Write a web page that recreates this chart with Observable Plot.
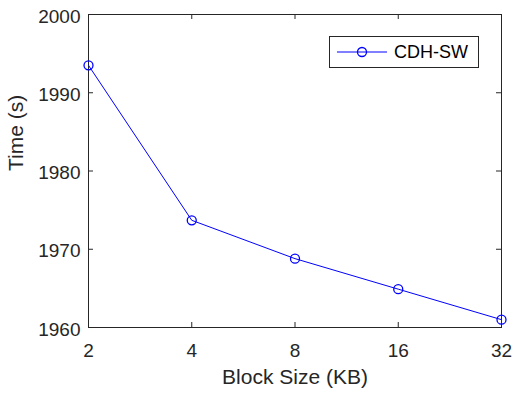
<!DOCTYPE html>
<html><head><meta charset="utf-8">
<script src="https://cdn.jsdelivr.net/npm/d3@7"></script>
<script src="https://cdn.jsdelivr.net/npm/@observablehq/plot@0.6"></script>
<style>
body{margin:0;background:#fff;font-family:"Liberation Sans",Arial,sans-serif;}
#wrap{position:relative;width:513px;height:397px;}
#legend{position:absolute;left:329px;top:36px;width:150px;height:32px;border:1px solid #262626;background:#fff;box-sizing:border-box;display:flex;align-items:center;font-size:18px;color:#000;}
#legend svg{margin-left:6px;margin-right:6px;}
</style></head><body>
<div id="wrap"></div>
<script>
const blockSizes = [2, 4, 8, 16, 32];
const times = [1993.5, 1973.7, 1968.8, 1964.9, 1961.0];
const yTicks = [1960, 1970, 1980, 1990, 2000];
const seriesName = "CDH-SW";
const data = blockSizes.map((b, i) => ({b, t: times[i]}));
const axisColor = "#262626";
const chart = Plot.plot({
  width: 513, height: 397,
  marginLeft: 88, marginRight: 12, marginTop: 14, marginBottom: 70,
  style: {fontFamily: '"Liberation Sans", Arial, sans-serif', color: axisColor, background: "#fff"},
  x: {type: "log", base: 2, domain: [2, 32]},
  y: {domain: [1960, 2000]},
  marks: [
    Plot.axisX(blockSizes, {anchor: "bottom", tickSize: 0, tickPadding: 16, fontSize: 19, tickFormat: d => String(d), label: null, fill: axisColor}),
    Plot.axisY(yTicks, {anchor: "left", tickSize: 0, tickPadding: 8, dy: 2, fontSize: 19, tickFormat: d => String(d), label: null, fill: axisColor}),
    // inward ticks on all four sides
    Plot.ruleX(blockSizes, {x: d => d, y1: 1960, y2: 1960, insetBottom: 5, stroke: axisColor}),
    Plot.ruleX(blockSizes, {x: d => d, y1: 2000, y2: 2000, insetTop: 5, stroke: axisColor}),
    Plot.ruleY(yTicks, {y: d => d, x1: 2, x2: 2, insetLeft: 5, stroke: axisColor}),
    Plot.ruleY(yTicks, {y: d => d, x1: 32, x2: 32, insetRight: 5, stroke: axisColor}),
    Plot.frame({stroke: axisColor, strokeWidth: 1}),
    Plot.line(data, {x: "b", y: "t", stroke: "#0000ff", strokeWidth: 1}),
    Plot.dot(data, {x: "b", y: "t", r: 4.5, stroke: "#0000ff", strokeWidth: 1.3, fill: "none"}),
    Plot.text(["Block Size (KB)"], {frameAnchor: "bottom", dy: 56, fontSize: 21, fill: axisColor, text: d => d}),
    Plot.text(["Time (s)"], {frameAnchor: "left", dx: -72, rotate: -90, fontSize: 21, fill: axisColor, text: d => d})
  ]
});
const wrap = document.getElementById("wrap");
wrap.appendChild(chart);
const leg = document.createElement("div");
leg.id = "legend";
leg.innerHTML = `<svg width="52" height="12"><line x1="1" y1="6" x2="51" y2="6" stroke="#0000ff" stroke-width="1"/><circle cx="26" cy="6" r="4.5" fill="none" stroke="#0000ff" stroke-width="1.3"/></svg><span></span>`;
leg.querySelector("span").textContent = seriesName;
wrap.appendChild(leg);
</script>
</body></html>
